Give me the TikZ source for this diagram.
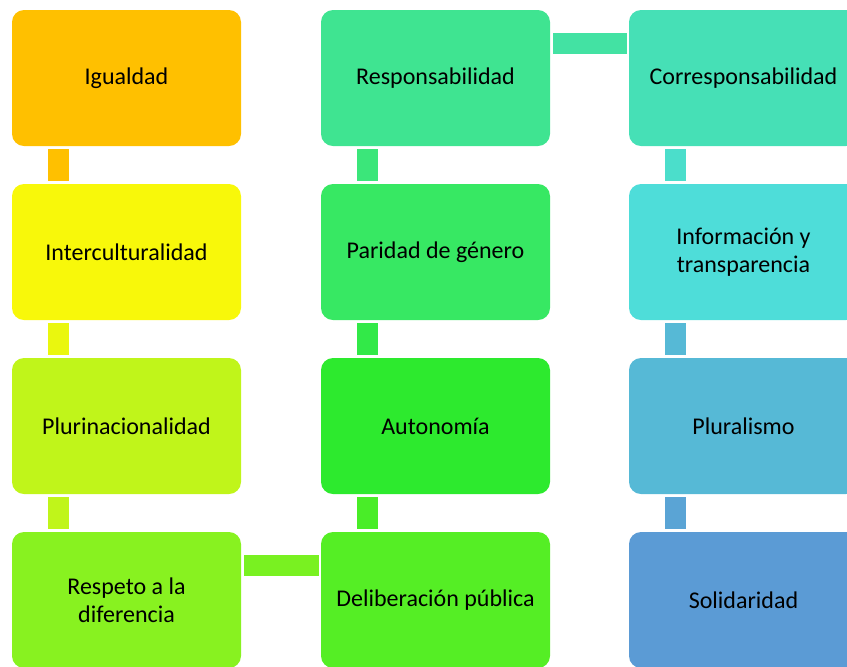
\documentclass[tikz,border=0pt]{standalone}
\usepackage{fontspec}
\setmainfont{Carlito}
\definecolor{cA}{HTML}{FFC000}
\definecolor{cB}{HTML}{F8F80A}
\definecolor{cC}{HTML}{C0F51A}
\definecolor{cD}{HTML}{88F220}
\definecolor{cE}{HTML}{55EE25}
\definecolor{cF}{HTML}{2DEA2E}
\definecolor{cG}{HTML}{37E863}
\definecolor{cH}{HTML}{3FE491}
\definecolor{cI}{HTML}{46E0B6}
\definecolor{cJ}{HTML}{4EDDD9}
\definecolor{cK}{HTML}{56B9D6}
\definecolor{cL}{HTML}{5B9BD5}
\tikzset{
  box/.style={rectangle, rounded corners=6pt, minimum width=114.5pt, minimum height=68pt,
    inner sep=2pt, align=center, font=\fontsize{12}{14}\selectfont, text=black},
  vlink/.style={line width=10.5pt, shorten <=1.5pt, shorten >=1.5pt},
  hlink/.style={line width=10.5pt, shorten <=1.5pt, shorten >=1pt},
}
\begin{document}
\begin{tikzpicture}[x=0.5pt,y=-0.5pt]
\useasboundingbox (0,0) rectangle (847,666);
\clip (0,0) rectangle (847,666);
\node[box, fill=cA] (a) at (126.5,78) {Igualdad};
\node[box, fill=cB] (b) at (126.5,252) {Interculturalidad};
\node[box, fill=cC] (c) at (126.5,426) {Plurinacionalidad};
\node[box, fill=cD] (d) at (126.5,600) {Respeto a la\\diferencia};
\node[box, fill=cE] (e) at (435.5,600) {Deliberación pública};
\node[box, fill=cF] (f) at (435.5,426) {Autonomía};
\node[box, fill=cG] (g) at (435.5,252) {Paridad de género};
\node[box, fill=cH] (h) at (435.5,78) {Responsabilidad};
\node[box, fill=cI] (i) at (743.5,78) {Corresponsabilidad};
\node[box, fill=cJ] (j) at (743.5,252) {Información y\\transparencia};
\node[box, fill=cK] (k) at (743.5,426) {Pluralismo};
\node[box, fill=cL] (l) at (743.5,600) {Solidaridad};
% vertical links (offset 46.5px from the left side)
\draw[vlink, cA] ([xshift=23.25pt]a.south west) -- ([xshift=23.25pt]b.north west);
\draw[vlink, cB!75!cC] ([xshift=23.25pt]b.south west) -- ([xshift=23.25pt]c.north west);
\draw[vlink, cC] ([xshift=23.25pt]c.south west) -- ([xshift=23.25pt]d.north west);
\draw[vlink, cE!70!cF] ([xshift=23.25pt]e.north west) -- ([xshift=23.25pt]f.south west);
\draw[vlink, cF!50!cG] ([xshift=23.25pt]f.north west) -- ([xshift=23.25pt]g.south west);
\draw[vlink, cG!50!cH] ([xshift=23.25pt]g.north west) -- ([xshift=23.25pt]h.south west);
\draw[vlink, cI!40!cJ] ([xshift=23.25pt]i.south west) -- ([xshift=23.25pt]j.north west);
\draw[vlink, cK] ([xshift=23.25pt]j.south west) -- ([xshift=23.25pt]k.north west);
\draw[vlink, cK!30!cL] ([xshift=23.25pt]k.south west) -- ([xshift=23.25pt]l.north west);
% horizontal links
\draw[hlink, cD!70!cE] ([yshift=-16.75pt]d.north east) -- ([yshift=-16.75pt]e.north west);
\draw[hlink, cH!50!cI] ([yshift=-16.75pt]h.north east) -- ([yshift=-16.75pt]i.north west);
\end{tikzpicture}
\end{document}
